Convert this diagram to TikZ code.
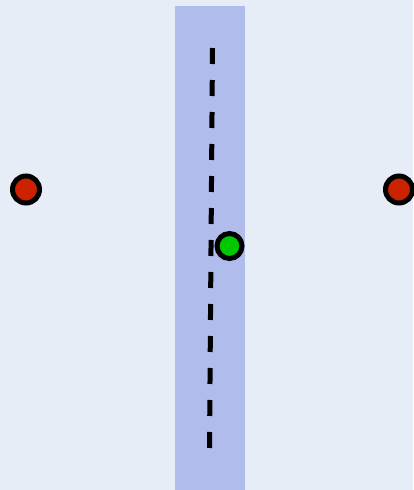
\documentclass[tikz,border=0pt]{standalone}
\usepackage{tikz}
\usetikzlibrary{positioning}
\definecolor{Paper}{HTML}{E6EDF6}
\definecolor{Band}{HTML}{B0BDEC}
\definecolor{Ink}{HTML}{000000}
\definecolor{DotRed}{HTML}{CC2200}
\definecolor{DotGreen}{HTML}{00C800}
\tikzset{
  dot/.style={circle,draw=Ink,line width=5pt,inner sep=0pt,minimum size=27pt},
  reddot/.style={dot,fill=DotRed},
  greendot/.style={dot,fill=DotGreen,minimum size=25pt},
  axis/.style={draw=Ink,line width=5pt,dash pattern=on 16pt off 16pt}
}
\begin{document}
\begin{tikzpicture}[x=1pt,y=-1pt]
  \useasboundingbox (0,0) rectangle (413,490);
  \fill[Paper] (0,0) rectangle (413,490);
  \fill[Band] (175,6) rectangle (245,490);
  \coordinate (top) at (212.5,48);
  \coordinate (bottom) at (209.5,448);
  \draw[axis] (top) -- (bottom);
  \node[reddot] (left) at (26,189.5) {};
  \node[reddot] (right) at (399,189.5) {};
  \node[greendot] (mid) at (229.5,246) {};
\end{tikzpicture}
\end{document}
